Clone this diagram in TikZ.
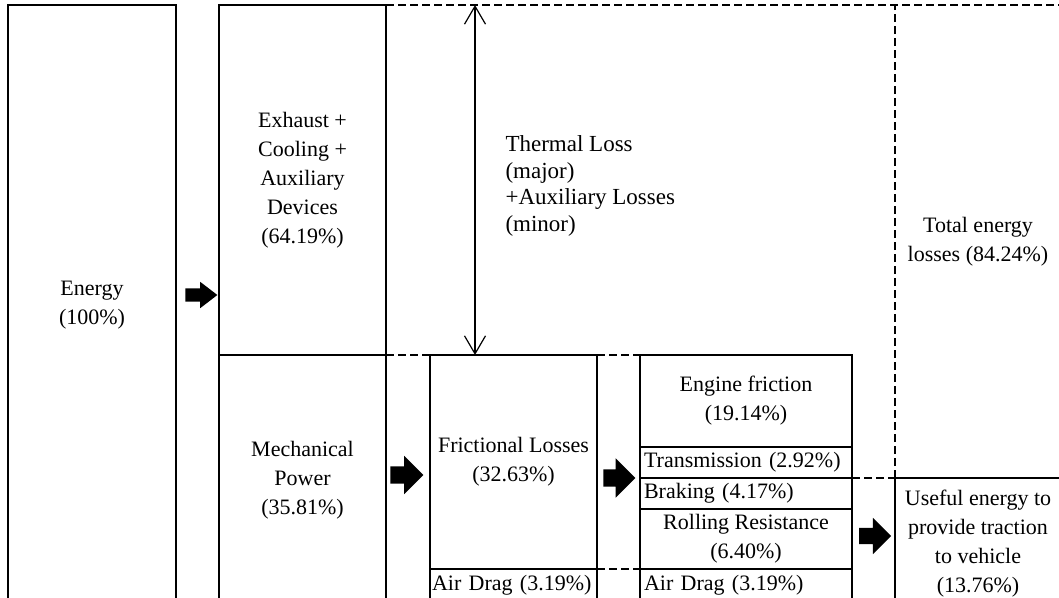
\documentclass[tikz,border=0pt]{standalone}
\usepackage{fontspec}
\setmainfont{Liberation Serif}
\usetikzlibrary{positioning,arrows.meta,shapes.arrows}

\begin{document}
\begin{tikzpicture}[
  x=1pt, y=-1pt,
  font=\fontsize{22}{29}\selectfont,
  box/.style={draw, line width=1.2pt, outer sep=0pt, inner sep=3pt, align=center, anchor=north west},
  lbox/.style={box, inner xsep=4pt, text width=#1, align=left},
  gap/.style={line width=1.2pt, dash pattern=on 8pt off 4pt},
  blk/.style={single arrow, fill=black, inner xsep=0pt, outer sep=0pt, single arrow head indent=0pt},
  dbl/.style={{Straight Barb[length=18pt,width=21pt]}-{Straight Barb[length=18pt,width=21pt]}, line width=1.2pt},
  node distance=0pt]
\useasboundingbox (0,0) rectangle (1059,597);
\clip (0,0) rectangle (1059,597);
\node[box, minimum width=168pt, minimum height=600pt] (energy) at (8,5) {Energy\\(100\%)};
\node[box, minimum width=167pt, minimum height=350pt] (exhaust) at (219,5) {Exhaust +\\Cooling +\\Auxiliary\\Devices\\(64.19\%)};
\node[box, below=of exhaust, minimum width=167pt, minimum height=250pt] (mech) {Mechanical\\Power\\(35.81\%)};
\node[box, minimum width=167pt, minimum height=214pt] (fric) at (430,355) {Frictional Losses\\(32.63\%)};
\node[lbox=163pt, inner xsep=2pt, below=of fric, minimum width=167pt, minimum height=32pt] (drag1) {Air Drag (3.19\%)};
\node[box, minimum width=212pt, minimum height=92pt] (engine) at (640,355) {Engine friction\\(19.14\%)};
\node[lbox=204pt, below=of engine, minimum width=212pt, minimum height=31pt] (trans) {Transmission (2.92\%)};
\node[lbox=204pt, below=of trans, minimum width=212pt, minimum height=31pt] (brake) {Braking (4.17\%)};
\node[box, below=of brake, minimum width=212pt, minimum height=60pt] (roll) {Rolling Resistance\\(6.40\%)};
\node[lbox=204pt, below=of roll, minimum width=212pt, minimum height=32pt] (drag2) {Air Drag (3.19\%)};
\node[box, minimum width=166pt, minimum height=132pt] (useful) at (895,478) {Useful energy to\\provide traction\\to vehicle\\(13.76\%)};
\node[align=center] (total) at (978,242) {Total energy\\losses (84.24\%)};
\node[align=left, anchor=west, font=\fontsize{23}{26.5}\selectfont] (thermal) at (502,186) {Thermal Loss\\(major)\\+Auxiliary Losses\\(minor)};
% dashed borders of the loss regions
\coordinate (topend) at (1065,5);
\draw[gap] (exhaust.north east) -- (topend);
\draw[gap] (useful.north west) -- (useful.north west |- topend);
\draw[gap] (trans.south east) -- (useful.north west);
\draw[gap] (exhaust.south east) -- (fric.north west);
\draw[gap] (fric.north east) -- (engine.north west);
\draw[gap] (drag1.north east) -- (drag2.north west);
\coordinate (lossTop) at (475,5);
\coordinate (lossBot) at (475,355);
\draw[dbl] (lossTop) -- (lossBot);
% flow arrows
\node[blk, minimum height=32pt, inner ysep=6.5pt, single arrow head extend=6.5pt, single arrow tip angle=75] (arrA) at (197,295) {};
\node[blk, minimum height=33pt, inner ysep=8.5pt, single arrow head extend=10.5pt] (arrB) at (402.5,475) {};
\node[blk, minimum height=32pt, inner ysep=8.5pt, single arrow head extend=11pt] (arrC) at (615,478) {};
\node[blk, minimum height=32pt, inner ysep=8pt, single arrow head extend=10pt] (arrD) at (871,536) {};
\end{tikzpicture}
\end{document}
